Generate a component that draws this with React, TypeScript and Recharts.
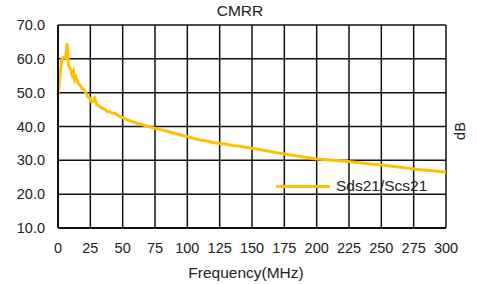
import { LineChart, Line, XAxis, YAxis, CartesianGrid } from 'recharts';

const freqs = [
  0, 1, 3, 5, 6, 7, 7.5, 8, 9, 10, 11, 12, 13, 14, 15.5, 17, 18.5, 20, 21.5, 23,
  24.5, 26, 27.5, 28.5, 30, 32, 34, 36, 38, 40, 42, 44, 46, 48, 50, 53, 56, 59, 62,
  65, 68, 71, 75, 80, 85, 90, 95, 100, 105, 110, 115, 120, 125, 130, 135, 140, 150,
  160, 170, 180, 190, 200, 210, 220, 230, 240, 250, 260, 270, 280, 290, 300,
];

const cmrr = [
  49.3, 53.0, 60.2, 60.6, 60.3, 64.6, 63.0, 58.2, 57.5, 56.7, 55.2, 56.2, 53.7, 54.5,
  52.8, 52.2, 51.3, 51.0, 50.0, 48.8, 48.5, 47.3, 47.6, 48.3, 46.4, 46.0, 45.4, 45.2,
  44.5, 44.4, 44.0, 43.9, 43.4, 42.9, 42.6, 42.1, 41.6, 41.3, 40.8, 40.5, 40.2, 39.9,
  39.5, 39.0, 38.5, 38.0, 37.5, 37.0, 36.5, 36.0, 35.7, 35.3, 35.0, 34.8, 34.4, 34.2,
  33.6, 32.9, 32.2, 31.6, 31.0, 30.4, 30.1, 29.8, 29.4, 29.0, 28.6, 28.2, 27.7, 27.2,
  26.9, 26.5,
];

const xTicks = [0, 25, 50, 75, 100, 125, 150, 175, 200, 225, 250, 275, 300];
const yTicks = [10, 20, 30, 40, 50, 60, 70];

const data = freqs.map((f, i) => ({ f, v: cmrr[i] }));

const FONT = '"Liberation Sans", Arial, sans-serif';
const TEXT = '#222';
const GOLD = '#FFC000';

export default function App() {
  return (
    <div style={{ position: 'absolute', left: 0, top: 0, width: 477, height: 284, background: '#fff', fontFamily: FONT }}>
      <LineChart width={477} height={284} data={data} margin={{ top: 25, right: 31, bottom: 0, left: 0 }}>
        <CartesianGrid stroke="#111" strokeWidth={1.5} horizontalValues={yTicks} verticalValues={xTicks} />
        <XAxis
          dataKey="f"
          type="number"
          domain={[0, 300]}
          ticks={xTicks}
          height={56}
          tickLine={false}
          tickSize={6}
          tickMargin={9}
          axisLine={{ stroke: '#111', strokeWidth: 2 }}
          tick={{ fill: TEXT, fontSize: 14.5, fontFamily: FONT }}
          interval={0}
        />
        <YAxis
          type="number"
          domain={[10, 70]}
          ticks={yTicks}
          width={58}
          tickLine={false}
          tickSize={6}
          tickMargin={7}
          axisLine={{ stroke: '#111', strokeWidth: 2 }}
          tick={{ fill: TEXT, fontSize: 14.5, fontFamily: FONT }}
          tickFormatter={(v: number) => v.toFixed(1)}
          interval={0}
        />
        <Line
          type="linear"
          dataKey="v"
          name="Sds21/Scs21"
          stroke={GOLD}
          strokeWidth={3}
          dot={false}
          isAnimationActive={false}
        />
      </LineChart>

      {/* legend, title, axis labels */}
      <div style={{ position: 'absolute', left: 276, top: 177, display: 'flex', alignItems: 'center', fontSize: 15.5, color: TEXT }}>
        <span style={{ display: 'inline-block', width: 54, height: 3, background: GOLD, marginRight: 6 }} />
        <span>Sds21/Scs21</span>
      </div>
      <div style={{ position: 'absolute', left: 0, width: 480, top: 2, textAlign: 'center', fontSize: 15.5, color: TEXT }}>
        CMRR
      </div>
      <div style={{ position: 'absolute', left: 146, width: 200, top: 264, textAlign: 'center', fontSize: 15.5, color: TEXT }}>
        Frequency(MHz)
      </div>
      <div
        style={{
          position: 'absolute',
          left: 460,
          top: 131,
          transform: 'translate(-50%, -50%) rotate(-90deg)',
          fontSize: 14.5,
          color: TEXT,
        }}
      >
        dB
      </div>
    </div>
  );
}
